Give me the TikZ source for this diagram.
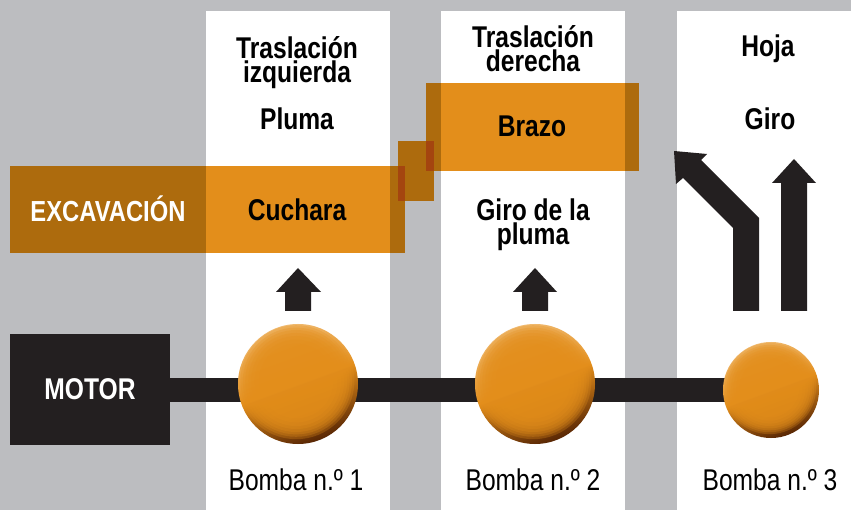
\documentclass[tikz,border=0pt]{standalone}
\usepackage{fontspec}
\setmainfont{Liberation Sans}[FakeStretch=0.82]
\definecolor{bggray}{RGB}{188,189,192}
\definecolor{orlight}{RGB}{227,142,27}
\definecolor{ordark}{RGB}{173,107,13}
\definecolor{orred}{RGB}{164,69,15}
\definecolor{ink}{RGB}{35,31,32}
\definecolor{pumplight}{RGB}{246,204,146}
\definecolor{pumpdark}{RGB}{88,38,4}
\tikzset{
  lbl/.style={font=\bfseries\fontsize{30}{24}\selectfont, align=center, anchor=base, inner sep=0pt, text=black},
  bomba/.style={font=\fontsize{30}{30}\selectfont, anchor=base, inner sep=0pt, text=black},
  pump/.style={circle, inner sep=0pt, draw=none, shading=axis, top color=pumplight, bottom color=pumpdark, middle color=orlight, shading angle=20},
  pumpglow/.style={fill=orlight, opacity=0.28},
  motorbox/.style={fill=ink, inner sep=0pt, minimum width=160pt, minimum height=111pt, text=white, font=\bfseries\fontsize{30}{30}\selectfont},
  shaft/.style={draw=ink, line width=24pt},
}
\begin{document}
\begin{tikzpicture}[x=1pt,y=-1pt]
\useasboundingbox (0,0) rectangle (851,510);
\fill[bggray] (0,0) rectangle (851,510);
% columns
\fill[white] (206,11) rectangle (390,510);
\fill[white] (441,11) rectangle (625,510);
\fill[white] (677,11) rectangle (851,510);
% bands
\fill[ordark] (10,166) rectangle (206,253);
\fill[orlight] (206,166) rectangle (390,253);
\fill[ordark] (390,166) rectangle (405,253);
\fill[ordark] (398,141) rectangle (434,201);
\fill[orred] (398,166) rectangle (405,201);
\fill[ordark] (426,83.5) rectangle (441,171);
\fill[orlight] (441,83.5) rectangle (625,171);
\fill[ordark] (625,83.5) rectangle (639,171);
\fill[orred] (426,141) rectangle (434,171);
% texts
\node[lbl] (t1) at (297,83) {Traslación\\izquierda};
\node[lbl] (pluma) at (297,130) {Pluma};
\node[lbl] (cuchara) at (297,221) {Cuchara};
\node[lbl, text=white, font=\bfseries\fontsize{29}{24}\selectfont] (exc) at (108,222) {EXCAVACIÓN};
\node[lbl] (t2) at (533,72) {Traslación\\derecha};
\node[lbl] (brazo) at (532,137) {Brazo};
\node[lbl] (giro2) at (533,245) {Giro de la\\pluma};
\node[lbl] (hoja) at (768,57) {Hoja};
\node[lbl] (giro3) at (770,130) {Giro};
% arrows
\fill[ink] (298,268) -- (321,292) -- (311,292) -- (311,311) -- (285,311) -- (285,292) -- (276,292) -- cycle;
\fill[ink] (535,268) -- (557,292) -- (548,292) -- (548,311) -- (522,311) -- (522,292) -- (513,292) -- cycle;
\fill[ink] (794,159) -- (816,183) -- (807,183) -- (807,311) -- (781,311) -- (781,183) -- (772,183) -- cycle;
\fill[ink] (733,311) -- (733,228) -- (683,178) -- (676,184) -- (674,151) -- (707,154) -- (701,160) -- (759,218) -- (759,311) -- cycle;
% motor, shaft, pumps
\node[motorbox] (motor) at (90,389.5) {MOTOR};
\coordinate (shaftend) at (771,390);
\draw[shaft] (motor.east |- shaftend) -- (shaftend);
\node[pump, minimum size=120pt] (p1) at (298,384) {};
\node[pump, minimum size=120pt] (p2) at (535,384) {};
\node[pump, minimum size=96pt] (p3) at (771,390) {};
\foreach \n/\R in {p1/60,p2/60,p3/48}{
  \begin{scope}
    \clip (\n.center) circle[radius=\R];
    \foreach \f in {0.97,0.93,0.89,0.85,0.80,0.75,0.69,0.62}
      \fill[pumpglow] ([shift={(-0.03*\R,-0.05*\R)}]\n.center) circle[radius=\f*\R];
  \end{scope}
}
\node[bomba] (b1) at (296,490) {Bomba n.º 1};
\node[bomba] (b2) at (533,490) {Bomba n.º 2};
\node[bomba] (b3) at (770,490) {Bomba n.º 3};
\end{tikzpicture}
\end{document}
